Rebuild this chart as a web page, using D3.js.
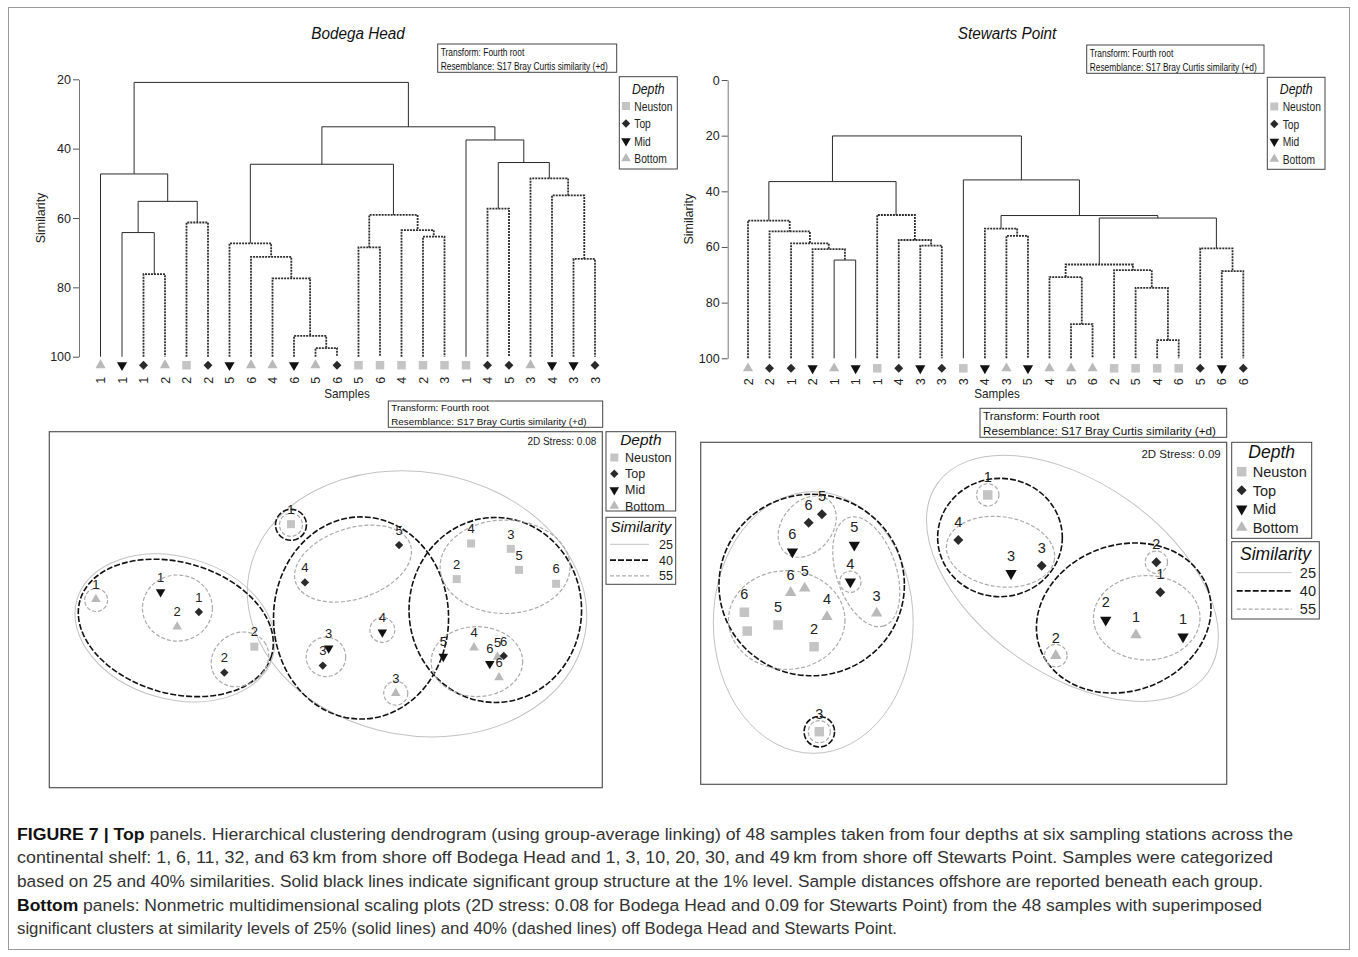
<!DOCTYPE html>
<html>
<head>
<meta charset="utf-8">
<script src="https://cdn.jsdelivr.net/npm/d3@7"></script>
<style>
  body { margin: 0; background: #fff; }
  svg text { font-family: "Liberation Sans", Arial, sans-serif; }
</style>
</head>
<body>
<svg id="fig" width="1358" height="957"></svg>
<script>
// ---------- data ----------
const depthLevels = ["Neuston", "Top", "Mid", "Bottom"];
const similarityLevels = [25, 40, 55];

// Dendrogram leaves, left to right
const bodegaLeafDepth = ["Bottom","Mid","Top","Bottom","Neuston","Top","Mid","Bottom","Bottom","Mid","Bottom","Top",
  "Neuston","Neuston","Neuston","Neuston","Neuston","Neuston","Top","Top","Bottom","Mid","Mid","Top"];
const bodegaLeafStation = [1,1,1,2,2,2,5,6,4,6,5,6,5,6,4,2,3,1,4,5,3,4,3,3];
// merge node: [similarity, significant (1) or not (0), left, right]; a number is a leaf index
const bodegaTree = [20.9, 1,
  [47.3, 1, 0, [55.2, 1, [64.2, 1, 1, [76.2, 0, 2, 3]], [61.3, 0, 4, 5]]],
  [33.7, 1,
    [44.5, 1,
      [67.3, 0, 6, [71.2, 0, 7, [77.4, 0, 8, [94.0, 0, 9, [97.5, 0, 10, 11]]]]],
      [59.1, 0, [68.5, 0, 12, 13], [63.5, 0, 14, [65.4, 0, 15, 16]]]],
    [37.5, 1, 17, [44.0, 1, [57.3, 0, 18, 19], [48.6, 0, 20, [53.5, 0, 21, [71.8, 0, 22, 23]]]]]]];

const stewartsLeafDepth = ["Bottom","Top","Top","Mid","Bottom","Mid","Neuston","Top","Mid","Top","Neuston","Mid",
  "Bottom","Mid","Bottom","Bottom","Bottom","Neuston","Neuston","Neuston","Neuston","Top","Mid","Top"];
const stewartsLeafStation = [2,2,1,2,1,1,1,4,3,3,3,4,3,5,4,5,6,2,5,4,6,5,6,6];
const stewartsTree = [20.1, 1,
  [36.5, 1,
    [50.5, 0, 0, [54.4, 0, 1, [58.7, 0, 2, [60.8, 0, 3, [64.7, 1, 4, 5]]]]],
    [48.5, 0, 6, [57.5, 0, 7, [59.5, 0, 8, 9]]]],
  [35.9, 1, 10,
    [48.7, 1,
      [53.4, 0, 11, [56.0, 0, 12, 13]],
      [49.6, 1,
        [66.3, 0, [70.8, 0, 14, [87.7, 0, 15, 16]], [68.3, 0, 17, [74.7, 0, 18, [93.5, 0, 19, 20]]]],
        [60.5, 0, 21, [68.7, 0, 22, 23]]]]]];

const bodegaTicks = [20, 40, 60, 80, 100];
const stewartsTicks = [0, 20, 40, 60, 80, 100];

// NMDS ordination, Bodega Head
const bodegaDepth = ["Bottom","Bottom","Bottom","Bottom","Bottom","Bottom",
  "Neuston","Neuston","Neuston","Neuston","Neuston","Neuston","Neuston",
  "Mid","Mid","Mid","Mid","Mid",
  "Top","Top","Top","Top","Top","Top"];
const bodegaStation = ["1","2","3","4","5","6", "1","2","2","3","4","5","6", "1","3","4","5","6", "1","2","3","4","5","6"];
const bodegaMDS1 = [-1.663,-1.075,0.506,1.072,1.242,1.253, -0.252,-0.517,0.947,1.338,1.051,1.398,1.666,
  -1.195,0.021,0.409,0.850,1.186, -0.918,-0.734,-0.022,-0.151,0.530,1.287];
const bodegaMDS2 = [0.075,-0.123,-0.605,-0.275,-0.342,-0.492, 0.620,-0.268,0.222,0.441,0.480,0.289,0.188,
  0.128,-0.279,-0.164,-0.340,-0.391, -0.017,-0.456,-0.405,0.198,0.468,-0.335];
// cluster outlines: [similarity level, centre MDS1, centre MDS2, radius 1, radius 2, tilt in degrees]
const bodegaClusters = [
  [25,-1.091,-0.132,0.738,0.514,16],
  [25,0.660,0.043,1.235,0.953,10],
  [40,-1.085,-0.132,0.721,0.474,16],
  [40,0.255,-0.060,0.633,0.731,0],
  [40,1.226,-0.002,0.624,0.669,0],
  [40,-0.252,0.615,0.112,0.112,0],
  [55,-1.661,0.070,0.083,0.083,0],
  [55,-1.073,0.012,0.253,0.239,0],
  [55,-0.621,-0.360,0.217,0.188,-35],
  [55,-0.252,0.615,0.083,0.083,0],
  [55,0.197,0.334,0.437,0.256,-18],
  [55,0.001,-0.342,0.143,0.143,0],
  [55,0.409,-0.147,0.090,0.090,0],
  [55,0.506,-0.605,0.087,0.087,0],
  [55,1.297,0.311,0.470,0.338,0],
  [55,1.093,-0.376,0.331,0.253,0]
];

// NMDS ordination, Stewarts Point
const stewartsDepth = ["Bottom","Bottom","Bottom","Bottom","Bottom","Bottom",
  "Neuston","Neuston","Neuston","Neuston","Neuston","Neuston",
  "Mid","Mid","Mid","Mid","Mid","Mid",
  "Top","Top","Top","Top","Top","Top"];
const stewartsStation = ["1","2","3","4","5","6", "1","2","3","","5","6", "1","2","3","4","5","6", "1","2","3","4","5","6"];
const stewartsMDS1 = [1.310,0.700,-0.662,-1.040,-1.209,-1.316, 0.183,-1.138,-1.098,-1.646,-1.412,-1.668,
  1.668,1.080,0.360,-0.862,-0.832,-1.303, 1.495,1.465,0.593,-0.041,-1.078,-1.179];
const stewartsMDS2 = [-0.165,-0.322,0.000,-0.026,0.190,0.157, 0.900,-0.254,-0.900,-0.135,-0.089,0.008,
  -0.178,-0.051,0.304,0.240,0.519,0.468, 0.160,0.388,0.362,0.557,0.753,0.689];
const stewartsClusters = [
  [25,-1.144,-0.070,0.760,0.995,0],
  [25,0.827,0.266,1.255,0.730,35],
  [40,-1.156,0.215,0.705,0.690,0],
  [40,-1.098,-0.900,0.116,0.116,0],
  [40,0.276,0.576,0.474,0.450,0],
  [40,1.217,-0.036,0.677,0.555,-20],
  [55,-1.190,0.659,0.259,0.190,-50],
  [55,-0.741,0.316,0.433,0.228,72],
  [55,-0.862,0.240,0.081,0.081,0],
  [55,-1.346,-0.051,0.443,0.375,0],
  [55,-1.098,-0.900,0.084,0.084,0],
  [55,0.183,0.900,0.085,0.085,0],
  [55,0.280,0.468,0.414,0.266,8],
  [55,1.465,0.388,0.085,0.085,0],
  [55,1.392,-0.034,0.405,0.321,0],
  [55,0.700,-0.322,0.086,0.086,0]
];

const captionLines = [
  [["FIGURE 7 | Top", true], [" panels. Hierarchical clustering dendrogram (using group-average linking) of 48 samples taken from four depths at six sampling stations across the", false]],
  [["continental shelf: 1, 6, 11, 32, and 63\u2009km from shore off Bodega Head and 1, 3, 10, 20, 30, and 49\u2009km from shore off Stewarts Point. Samples were categorized", false]],
  [["based on 25 and 40% similarities. Solid black lines indicate significant group structure at the 1% level. Sample distances offshore are reported beneath each group.", false]],
  [["Bottom", true], [" panels: Nonmetric multidimensional scaling plots (2D stress: 0.08 for Bodega Head and 0.09 for Stewarts Point) from the 48 samples with superimposed", false]],
  [["significant clusters at similarity levels of 25% (solid lines) and 40% (dashed lines) off Bodega Head and Stewarts Point.", false]]
];

// ---------- drawing ----------
const svg = d3.select("#fig");
svg.append("rect").attr("x", 0).attr("y", 0).attr("width", 1358).attr("height", 957).attr("fill", "#fff");
svg.append("rect").attr("x", 8.5).attr("y", 7.5).attr("width", 1341).attr("height", 942)
  .attr("fill", "none").attr("stroke", "#9a9a9a").attr("stroke-width", 1);

const depthFill = d3.scaleOrdinal().domain(depthLevels).range(["#c4c4c4", "#2a2a2a", "#111111", "#b9b9b9"]);

// text squeezed horizontally (condensed look of the plotting package)
function label(g, x, y, txt, opt = {}) {
  const sx = opt.squeeze || 1;
  return g.append("text")
    .attr("transform", `translate(${x},${y}) scale(${sx},1)`)
    .attr("text-anchor", opt.anchor || "start")
    .attr("dy", opt.dy || null)
    .attr("font-size", opt.size || 12)
    .attr("font-style", opt.italic ? "italic" : null)
    .attr("fill", opt.fill || "#222")
    .text(txt);
}

function symbolPath(depth, s) {
  if (depth === "Neuston") return { d: d3.symbol(d3.symbolSquare, s * s)(), rot: 0 };
  if (depth === "Top") return { d: d3.symbol(d3.symbolSquare, s * s * 0.55)(), rot: 45 };
  if (depth === "Mid") return { d: d3.symbol(d3.symbolTriangle, s * s * 0.62)(), rot: 180 };
  return { d: d3.symbol(d3.symbolTriangle, s * s * 0.62)(), rot: 0 };
}
function addSymbol(g, depth, cx, cy, s) {
  const p = symbolPath(depth, s);
  g.append("path").attr("d", p.d)
    .attr("transform", `translate(${cx},${cy}) rotate(${p.rot})`)
    .attr("fill", depthFill(depth));
}

function legendBox(g, x0, y0, w, h) {
  g.append("rect").attr("x", x0).attr("y", y0).attr("width", w).attr("height", h)
    .attr("fill", "#fff").attr("stroke", "#444").attr("stroke-width", 1);
}

function depthLegend(o) {
  const g = svg.append("g");
  legendBox(g, o.x, o.y, o.w, o.h);
  label(g, o.x + o.w / 2, o.titleY, "Depth", { anchor: "middle", italic: true, size: o.titleSize, fill: "#111", squeeze: o.squeeze });
  depthLevels.forEach((d, i) => {
    const yy = o.itemY0 + i * o.itemStep;
    addSymbol(g, d, o.symX, yy, o.symSize);
    label(g, o.textX, yy, d, { dy: "0.36em", size: o.fontSize, squeeze: o.squeeze });
  });
}

function contourStyle(level) {
  if (level === 25) return { stroke: "#c2c2c2", width: 1, dash: null };
  if (level === 40) return { stroke: "#111", width: 1.6, dash: "6,2" };
  return { stroke: "#ababab", width: 1.2, dash: "4,2" };
}

function similarityLegend(o) {
  const g = svg.append("g");
  legendBox(g, o.x, o.y, o.w, o.h);
  label(g, o.x + o.w / 2, o.titleY, "Similarity", { anchor: "middle", italic: true, size: o.titleSize, fill: "#111" });
  similarityLevels.forEach((lv, i) => {
    const yy = o.itemY0 + i * o.itemStep;
    const st = contourStyle(lv);
    g.append("line").attr("x1", o.lineX0).attr("x2", o.lineX1).attr("y1", yy).attr("y2", yy)
      .attr("stroke", st.stroke).attr("stroke-width", st.width).attr("stroke-dasharray", st.dash);
    label(g, o.numX, yy, lv, { anchor: "end", dy: "0.36em", size: o.fontSize });
  });
}

function infoBox(o) {
  const g = svg.append("g");
  legendBox(g, o.x, o.y, o.w, o.h);
  ["Transform: Fourth root", "Resemblance: S17 Bray Curtis similarity (+d)"].forEach((t, i) => {
    label(g, o.x + 3, o.line0 + i * o.step, t, { size: o.fontSize, fill: "#111", squeeze: o.squeeze });
  });
}

function dendrogram(o) {
  const g = svg.append("g");
  const x = d3.scalePoint().domain(d3.range(o.depth.length)).range(o.xRange);
  const y = d3.scaleLinear().domain(o.yDomain).range(o.yRange);

  label(g, o.titleX, o.titleY, o.title, { anchor: "middle", italic: true, size: 17, fill: "#111", squeeze: 0.9 });

  const ax = g.append("g").attr("transform", `translate(${o.axisX},0)`)
    .call(d3.axisLeft(y).tickValues(o.ticks).tickSize(6).tickSizeOuter(0).tickPadding(2));
  ax.select(".domain").attr("stroke", "#777");
  ax.selectAll(".tick line").attr("stroke", "#555");
  ax.selectAll(".tick text").attr("font-size", 12.5).attr("fill", "#222");

  label(g, o.axisTitleX, (o.yRange[0] + o.yRange[1]) / 2, "Similarity", { anchor: "middle", size: 12.5 })
    .attr("transform", `translate(${o.axisTitleX},${(o.yRange[0] + o.yRange[1]) / 2}) rotate(-90)`);

  const links = g.append("g").attr("fill", "none");
  function walk(node) {
    if (typeof node === "number") return { x: x(node), s: 100 };
    const [h, sig, a, b] = node;
    const L = walk(a), R = walk(b);
    links.append("path")
      .attr("d", `M${L.x},${y(L.s)}V${y(h)}H${R.x}V${y(R.s)}`)
      .attr("stroke", sig ? "#2a2a2a" : "#2e2e2e")
      .attr("stroke-width", sig ? 1 : 1.8)
      .attr("stroke-dasharray", sig ? null : "2,1");
    return { x: (L.x + R.x) / 2, s: h };
  }
  walk(o.tree);

  o.depth.forEach((d, i) => {
    addSymbol(g, d, x(i), y(100) + o.symOff, 8.5);
    g.append("text").attr("transform", `translate(${x(i)},${y(100) + o.labOff}) rotate(-90)`)
      .attr("text-anchor", "middle").attr("dy", "0.36em").attr("font-size", 12.5).attr("fill", "#222")
      .text(o.station[i]);
  });
  label(g, o.samplesX, o.samplesY, "Samples", { anchor: "middle", size: 13, squeeze: 0.9 });
}

function ordination(o) {
  const g = svg.append("g");
  const x = d3.scaleLinear().domain([-2, 2]).range([o.left, o.right]);
  const y = d3.scaleLinear().domain(o.yDomain).range([o.bottom, o.top]);
  const k = x(1) - x(0);
  g.append("rect").attr("x", o.left).attr("y", o.top).attr("width", o.right - o.left).attr("height", o.bottom - o.top)
    .attr("fill", "#fff").attr("stroke", "#555").attr("stroke-width", 1.2);
  label(g, o.right - 6, o.stressY, o.stress, { anchor: "end", size: o.stressSize });

  o.clusters.forEach(c => {
    const st = contourStyle(c[0]);
    const cx = x(c[1]), cy = y(c[2]);
    g.append("ellipse").attr("cx", cx).attr("cy", cy).attr("rx", c[3] * k).attr("ry", c[4] * k)
      .attr("transform", `rotate(${c[5]},${cx},${cy})`)
      .attr("fill", "none").attr("stroke", st.stroke).attr("stroke-width", st.width)
      .attr("stroke-dasharray", st.dash);
  });
  o.depth.forEach((d, i) => {
    addSymbol(g, d, x(o.mds1[i]), y(o.mds2[i]), o.symSize);
  });
  o.depth.forEach((d, i) => {
    if (!o.station[i]) return;
    g.append("text").attr("x", x(o.mds1[i])).attr("y", y(o.mds2[i]) - o.labelLift)
      .attr("text-anchor", "middle").attr("dy", "0.36em").attr("font-size", o.labelSize).attr("fill", "#222")
      .text(o.station[i]);
  });
}

// top row: dendrograms
dendrogram({ title: "Bodega Head", titleX: 358, titleY: 39, tree: bodegaTree, depth: bodegaLeafDepth,
  station: bodegaLeafStation, xRange: [100.5, 595], yDomain: [20, 100], yRange: [79.3, 356.7], ticks: bodegaTicks,
  axisX: 79, axisTitleX: 45, symOff: 8.5, labOff: 23.5, samplesX: 347, samplesY: 397.5 });
dendrogram({ title: "Stewarts Point", titleX: 1007, titleY: 39, tree: stewartsTree, depth: stewartsLeafDepth,
  station: stewartsLeafStation, xRange: [748, 1243.3], yDomain: [0, 100], yRange: [80, 358.3], ticks: stewartsTicks,
  axisX: 727.7, axisTitleX: 693, symOff: 10, labOff: 23.5, samplesX: 997, samplesY: 397.5 });

infoBox({ x: 437.7, y: 44, w: 179, h: 28.3, line0: 55.8, step: 13.8, fontSize: 10, squeeze: 0.84 });
infoBox({ x: 1086.7, y: 45, w: 177.3, h: 28.3, line0: 56.8, step: 13.8, fontSize: 10, squeeze: 0.84 });
depthLegend({ x: 619.3, y: 76.7, w: 58, h: 92.3, titleY: 93.5, titleSize: 15, itemY0: 106, itemStep: 17.5,
  symX: 626, textX: 634.3, symSize: 8, fontSize: 12.5, squeeze: 0.82 });
depthLegend({ x: 1267.3, y: 77.3, w: 57.7, h: 92, titleY: 94, titleSize: 15, itemY0: 106.5, itemStep: 17.5,
  symX: 1274.3, textX: 1282.7, symSize: 8, fontSize: 12.5, squeeze: 0.82 });

// bottom row: ordinations
ordination({ left: 49.3, right: 602.3, top: 431.7, bottom: 787.7, yDomain: [-1.29, 1.29],
  depth: bodegaDepth, station: bodegaStation, mds1: bodegaMDS1, mds2: bodegaMDS2, clusters: bodegaClusters,
  stress: "2D Stress: 0.08", stressY: 444.5, stressSize: 10, symSize: 8, labelSize: 13, labelLift: 15 });
ordination({ left: 700.7, right: 1226.7, top: 442.3, bottom: 784.3, yDomain: [-1.3, 1.3],
  depth: stewartsDepth, station: stewartsStation, mds1: stewartsMDS1, mds2: stewartsMDS2, clusters: stewartsClusters,
  stress: "2D Stress: 0.09", stressY: 457.5, stressSize: 11.5, symSize: 9.5, labelSize: 14.5, labelLift: 18 });

infoBox({ x: 388.3, y: 401, w: 214.4, h: 26.3, line0: 411.3, step: 13.5, fontSize: 9.8, squeeze: 1 });
infoBox({ x: 980, y: 408.3, w: 246.7, h: 29, line0: 419.8, step: 15, fontSize: 11.7, squeeze: 1 });
depthLegend({ x: 606, y: 431.7, w: 69.7, h: 79.3, titleY: 445, titleSize: 15.5, itemY0: 457.5, itemStep: 16.2,
  symX: 614.3, textX: 625, symSize: 8, fontSize: 12.5, squeeze: 1 });
similarityLegend({ x: 606, y: 517.3, w: 69.7, h: 67, titleY: 532, titleSize: 15, itemY0: 544.3, itemStep: 15.8,
  lineX0: 610, lineX1: 649, numX: 673, fontSize: 12.5 });
depthLegend({ x: 1231.7, y: 442.3, w: 80, h: 96, titleY: 458, titleSize: 17.5, itemY0: 471.7, itemStep: 18.6,
  symX: 1241.7, textX: 1252.7, symSize: 9.5, fontSize: 14.5, squeeze: 1 });
similarityLegend({ x: 1231.7, y: 541.7, w: 87.6, h: 77.3, titleY: 559.5, titleSize: 17.5, itemY0: 572.7, itemStep: 18.2,
  lineX0: 1236.7, lineX1: 1291.7, numX: 1316, fontSize: 14.5 });

// caption
const captionWidths = [1276, 1256, 1246, 1245, 880];
const cap = svg.append("g");
captionLines.forEach((parts, i) => {
  const t = cap.append("text").attr("x", 17).attr("y", 839.5 + i * 23.7).attr("font-size", 16.8).attr("fill", "#333")
    .attr("textLength", captionWidths[i]).attr("lengthAdjust", "spacingAndGlyphs");
  parts.forEach(([s, bold]) => {
    t.append("tspan").attr("font-weight", bold ? "bold" : null).attr("fill", bold ? "#111" : null).text(s);
  });
});
</script>
</body>
</html>
